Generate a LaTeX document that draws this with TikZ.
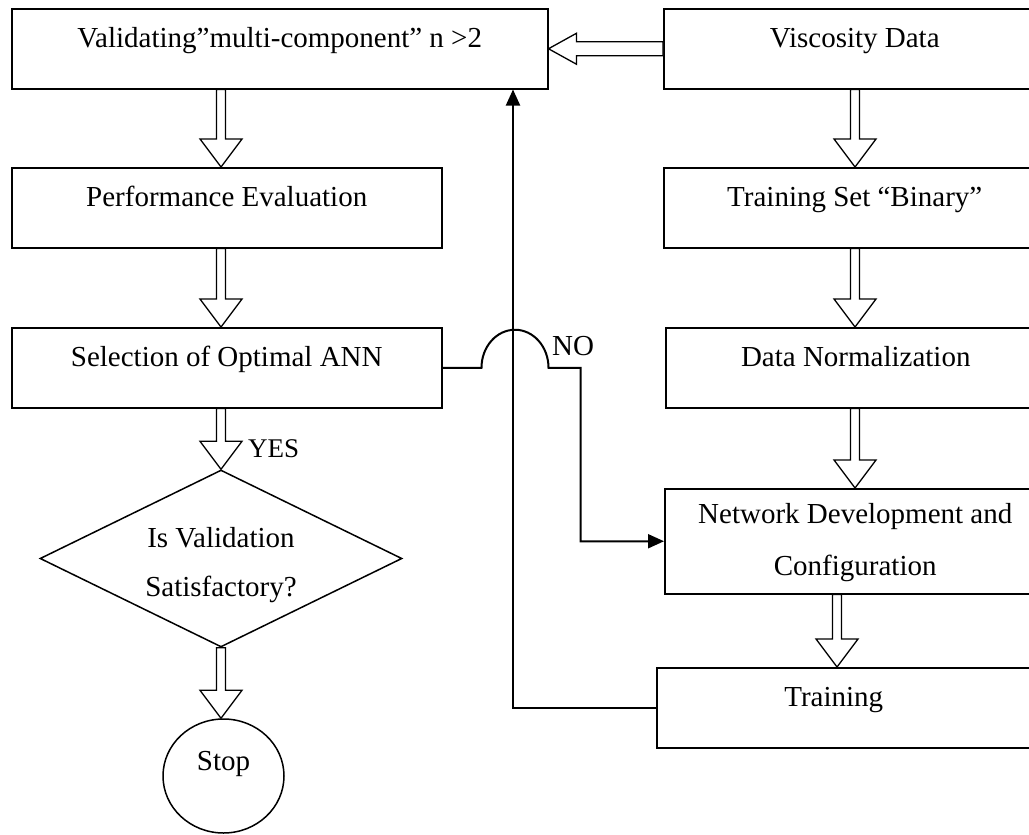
\documentclass[tikz,border=0pt]{standalone}
\usepackage{fontspec}
\setmainfont{Liberation Serif}
\usetikzlibrary{shapes.geometric,arrows.meta,calc}

% hollow block arrow pointing down, from the bottom of #1 to the top of #2, axis at x = #3
\newcommand\hollowdown[3]{%
  \draw[hollow] let \p1=(#1.south), \p2=(#2.north) in
    ({#3pt-4.5pt},\y1) -- ({#3pt-4.5pt},{\y2+28pt}) -- ({#3pt-21pt},{\y2+28pt})
    -- (#3pt,\y2) -- ({#3pt+21pt},{\y2+28pt}) -- ({#3pt+4.5pt},{\y2+28pt})
    -- ({#3pt+4.5pt},\y1) -- cycle;}
% hollow block arrow pointing left, from the west side of #1 to the east side of #2
\newcommand\hollowleft[2]{%
  \draw[hollow] let \p1=(#1.west), \p2=(#2.east) in
    (\x1,{\y2+7pt}) -- ({\x2+28pt},{\y2+7pt}) -- ({\x2+28pt},{\y2+15.5pt})
    -- (\x2,\y2) -- ({\x2+28pt},{\y2-15.5pt}) -- ({\x2+28pt},{\y2-7pt})
    -- (\x1,{\y2-7pt}) -- cycle;}

\begin{document}
\begin{tikzpicture}[x=1pt,y=1pt,
  every node/.style={font=\fontsize{29}{52}\selectfont},
  box/.style={draw, line width=1.5pt, rectangle, anchor=north west, align=center,
    inner xsep=0pt, inner ysep=0pt, text height=39pt, text depth=41pt, minimum height=80pt},
  hollow/.style={draw, line width=1.3pt, fill=white, line join=miter},
  conn/.style={line width=2pt},
  tip/.style={-{Triangle[length=16pt,width=14pt]}},
  lbl/.style={anchor=base west, inner sep=0pt}]
\useasboundingbox (0,0) rectangle (1029,-835);
\clip (0,0) rectangle (1029,-835);

% left column
\node[box, minimum width=536pt] (val) at (11,-8) {Validating”multi-component” n >2};
\node[box, minimum width=430pt] (perf) at (11,-167) {Performance Evaluation};
\node[box, minimum width=430pt] (sel) at (11,-327) {Selection of Optimal ANN};
\node[draw, line width=1.5pt, diamond, aspect=2.045, minimum width=362pt, minimum height=177pt,
  inner sep=0pt, align=center, font=\fontsize{29}{49}\selectfont,
  text height=77pt, text depth=2pt] (dec) at (221,-558.5)
  {Is Validation\\Satisfactory?};
\node[draw, line width=1.5pt, ellipse, minimum width=121pt, minimum height=114pt,
  inner sep=0pt, text height=3pt, text depth=15pt] (stop) at (223.5,-776) {Stop};

% right column
\node[box, minimum width=382pt] (visc) at (663,-8) {Viscosity Data};
\node[box, minimum width=382pt] (tset) at (663,-167) {Training Set “Binary”};
\node[box, minimum width=380pt] (norm) at (665,-327) {Data Normalization};
\node[box, minimum width=381pt, text height=87pt, text depth=18pt, minimum height=105pt]
  (net) at (664,-488) {Network Development and\\Configuration};
\node[box, minimum width=389pt] (train) at (656,-667) {Training\hspace*{35pt}};

% block arrows
\hollowleft{visc}{val}
\hollowdown{val}{perf}{221}
\hollowdown{perf}{sel}{221}
\hollowdown{sel}{dec}{221}
\hollowdown{dec}{stop}{221}
\hollowdown{visc}{tset}{855}
\hollowdown{tset}{norm}{855}
\hollowdown{norm}{net}{855}
\hollowdown{net}{train}{837}

% decision labels
\node[lbl, font=\fontsize{27}{32}\selectfont] (yes) at (248,-457) {YES};
\node[lbl] (no) at (552,-355) {NO};

% feedback from training back to validation
\coordinate (back) at ($(val.south west)+(502,0)$);
\draw[conn, tip] (train.west) -| (back);

% "NO" branch, hopping over the feedback line
\draw[conn, tip] (sel.east) -- ++(39,0)
  arc[start angle=180, end angle=0, x radius=33.5, y radius=38]
  -- ++(32,0) |- (net.west);
\end{tikzpicture}
\end{document}
